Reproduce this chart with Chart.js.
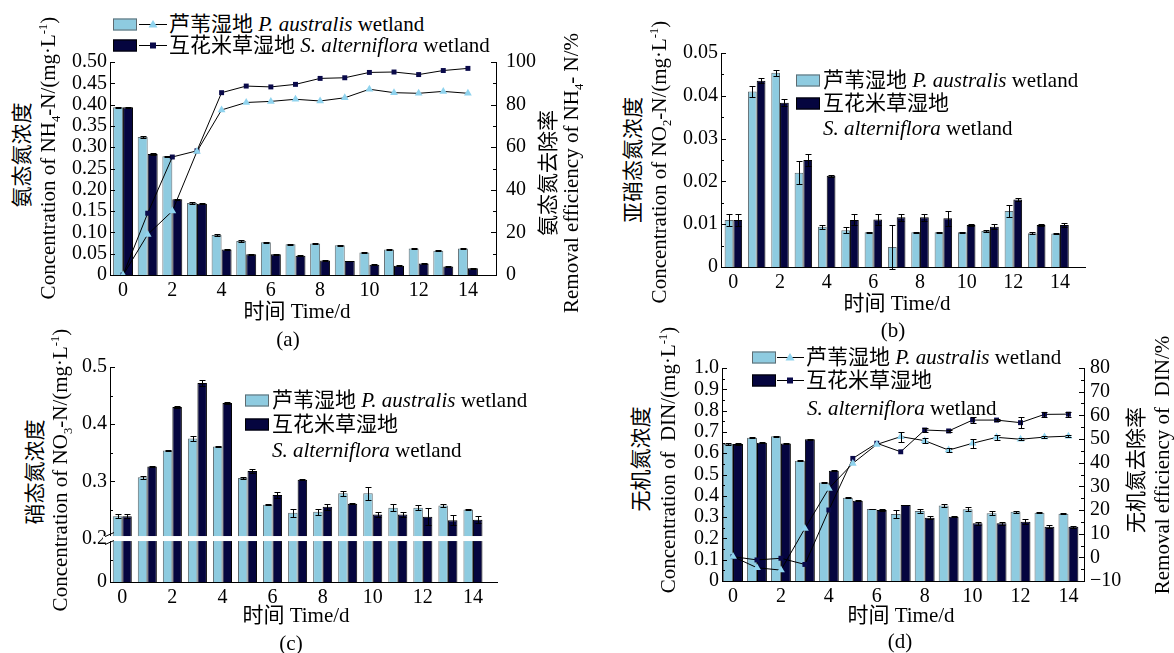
<!DOCTYPE html>
<html>
<head>
<meta charset="utf-8">
<script src="https://cdn.jsdelivr.net/npm/chart.js@4.4.1/dist/chart.umd.min.js"></script>
<style>
  body{margin:0;background:#fff;width:1174px;height:653px;position:relative;overflow:hidden;
       font-family:"Liberation Serif","Noto Sans CJK SC",serif;color:#000}
  canvas{position:absolute}
  .t{position:absolute;white-space:nowrap;font-size:21px;line-height:1}
  .rot{transform:translate(-50%,-50%) rotate(-90deg)}
  .ctr{transform:translate(-50%,-50%)}
  sub,sup{font-size:0.6em;line-height:0}
  .lg{position:absolute;display:flex;align-items:center;white-space:nowrap;font-size:21px;line-height:1;transform:translateY(-50%)}
  .sw{display:inline-block;width:24px;height:12px;box-sizing:border-box}
  .sw.l{background:#8ecbe0;border:1px solid #5f6b70}
  .sw.d{background:#05053f;border:1px solid #000}
  .lg svg{display:block}
</style>
</head>
<body>

<!-- panel canvases -->
<canvas id="cA"></canvas>
<canvas id="cB"></canvas>
<canvas id="cC"></canvas>
<canvas id="cD"></canvas>

<!-- (a) texts -->
<div class="t rot" style="left:22px;top:155px">氨态氮浓度</div>
<div class="t rot" style="left:48px;top:158px">Concentration of NH<sub>4</sub>-N/(mg·L<sup>-1</sup>)</div>
<div class="t rot" style="left:548px;top:173px">氨态氮去除率</div>
<div class="t rot" style="left:571px;top:173px">Removal efficiency of NH<sub>4</sub>- N/%</div>
<div class="t ctr" style="left:297px;top:311px">时间 Time/d</div>
<div class="t ctr" style="left:288px;top:339px">(a)</div>
<div class="lg" style="left:113px;top:24px"><span class="sw l"></span>
  <svg width="32" height="14"><line x1="2" y1="7" x2="30" y2="7" stroke="#000" stroke-width="1"/><polygon points="16,2.5 20.5,10 11.5,10" fill="#8fd3ee"/></svg>
  <span>芦苇湿地 <i>P. australis</i> wetland</span></div>
<div class="lg" style="left:113px;top:45px"><span class="sw d"></span>
  <svg width="32" height="14"><line x1="2" y1="7" x2="30" y2="7" stroke="#000" stroke-width="1"/><rect x="13" y="4" width="6" height="6" fill="#0a0a4a"/></svg>
  <span>互花米草湿地 <i>S. alterniflora</i> wetland</span></div>

<!-- (b) texts -->
<div class="t rot" style="left:633px;top:160px">亚硝态氮浓度</div>
<div class="t rot" style="left:659px;top:162px">Concentration of NO<sub>2</sub>-N/(mg·L<sup>-1</sup>)</div>
<div class="t ctr" style="left:897px;top:303px">时间 Time/d</div>
<div class="t ctr" style="left:893px;top:330px">(b)</div>
<div class="lg" style="left:796px;top:80px"><span class="sw l"></span><span style="margin-left:3px">芦苇湿地 <i>P. australis</i> wetland</span></div>
<div class="lg" style="left:796px;top:103px"><span class="sw d"></span><span style="margin-left:3px">互花米草湿地</span></div>
<div class="lg" style="left:823px;top:128px"><span><i>S. alterniflora</i> wetland</span></div>

<!-- (c) texts -->
<div class="t rot" style="left:35px;top:472px">硝态氮浓度</div>
<div class="t rot" style="left:60px;top:470px">Concentration of NO<sub>3</sub>-N/(mg·L<sup>-1</sup>)</div>
<div class="t ctr" style="left:296px;top:615px">时间 Time/d</div>
<div class="t ctr" style="left:291px;top:643px">(c)</div>
<div class="lg" style="left:245px;top:400px"><span class="sw l"></span><span style="margin-left:3px">芦苇湿地 <i>P. australis</i> wetland</span></div>
<div class="lg" style="left:245px;top:424px"><span class="sw d"></span><span style="margin-left:3px">互花米草湿地</span></div>
<div class="lg" style="left:272px;top:450px"><span><i>S. alterniflora</i> wetland</span></div>

<!-- (d) texts -->
<div class="t rot" style="left:641px;top:459px">无机氮浓度</div>
<div class="t rot" style="left:668px;top:460px">Concentration of&nbsp; DIN/(mg·L<sup>-1</sup>)</div>
<div class="t rot" style="left:1136px;top:470px">无机氮去除率</div>
<div class="t rot" style="left:1162px;top:465px">Removal efficiency of&nbsp; DIN/%</div>
<div class="t ctr" style="left:901px;top:615px">时间 Time/d</div>
<div class="t ctr" style="left:900px;top:641px">(d)</div>
<div class="lg" style="left:752px;top:357px"><span class="sw l"></span>
  <svg width="30" height="14"><line x1="1" y1="7" x2="28" y2="7" stroke="#000" stroke-width="1"/><polygon points="14,2.5 18.5,10 9.5,10" fill="#8fd3ee"/></svg>
  <span>芦苇湿地 <i>P. australis</i> wetland</span></div>
<div class="lg" style="left:752px;top:380px"><span class="sw d"></span>
  <svg width="30" height="14"><line x1="1" y1="7" x2="28" y2="7" stroke="#000" stroke-width="1"/><rect x="11" y="4" width="6" height="6" fill="#0a0a4a"/></svg>
  <span>互花米草湿地</span></div>
<div class="lg" style="left:807px;top:408px"><span><i>S. alterniflora</i> wetland</span></div>

<script>
// ---- data ----
const days = [0,1,2,3,4,5,6,7,8,9,10,11,12,13,14];
const xTickVals = [0,2,4,6,8,10,12,14];
const xTickLabels = ['0','2','4','6','8','10','12','14'];

// (a) NH4-N concentration (mg/L) and removal (%)
const nh4P    = [0.394,0.324,0.279,0.169,0.094,0.080,0.077,0.072,0.074,0.070,0.053,0.060,0.062,0.057,0.062];
const nh4PErr = [0.0015,0.0015,0.0015,0.0015,0.0015,0.0015,0.0015,0.0015,0.0015,0.0015,0.0015,0.0015,0.0015,0.0015,0.0015];
const nh4S    = [0.394,0.284,0.178,0.167,0.060,0.049,0.049,0.045,0.034,0.033,0.024,0.022,0.027,0.020,0.016];
const nh4SErr = [0.0015,0.0015,0.0015,0.0015,0.0015,0.001,0.001,0.001,0.001,0.001,0.001,0.001,0.001,0.001,0.001];
const remNH4P = [0,19,30,58,77.5,81,81.5,82.5,81.7,83.2,87.2,85.6,85.3,86.2,85.3];
const remNH4S = [0,29,55.4,58.3,85.6,88.7,88.3,89.5,92.3,92.6,95.1,95.3,94.1,96,97];
const aLeftTicks  = [0,0.05,0.10,0.15,0.20,0.25,0.30,0.35,0.40,0.45,0.50];
const aLeftLabels = ['0','0.05','0.10','0.15','0.20','0.25','0.30','0.35','0.40','0.45','0.50'];
const aRightTicks  = [0,20,40,60,80,100];
const aRightLabels = ['0','20','40','60','80','100'];

// (b) NO2-N concentration (mg/L)
const no2P    = [0.011,0.041,0.0454,0.022,0.0094,0.0086,0.0081,0.0047,0.0081,0.0081,0.0081,0.0084,0.0131,0.0079,0.0078];
const no2PErr = [0.0014,0.0013,0.0007,0.0027,0.0005,0.0007,0.0001,0.0052,0.0001,0.0001,0.0001,0.0002,0.0014,0.0003,0.0002];
const no2S    = [0.011,0.0435,0.0384,0.025,0.0213,0.011,0.0111,0.0116,0.0116,0.0114,0.0098,0.0094,0.0158,0.0098,0.0098];
const no2SErr = [0.0014,0.0006,0.0008,0.0013,0.0002,0.0013,0.0012,0.0008,0.0008,0.0018,0.0002,0.0006,0.0003,0.0002,0.0004];
const bTicks  = [0,0.01,0.02,0.03,0.04,0.05];
const bLabels = ['0','0.01','0.02','0.03','0.04','0.05'];

// (c) NO3-N concentration (mg/L), broken axis at 0.2
const no3P    = [0.239,0.307,0.354,0.375,0.361,0.306,0.259,0.245,0.247,0.279,0.279,0.254,0.254,0.258,0.251];
const no3PErr = [0.0035,0.002,0.001,0.004,0.001,0.001,0.001,0.007,0.005,0.004,0.011,0.006,0.004,0.002,0.001];
const no3S    = [0.239,0.326,0.430,0.472,0.437,0.318,0.276,0.303,0.2555,0.261,0.242,0.242,0.238,0.232,0.233];
const no3SErr = [0.0035,0.001,0.001,0.005,0.001,0.003,0.005,0.001,0.005,0.001,0.005,0.005,0.015,0.009,0.006];
const cTicks  = [0,0.2,0.3,0.4,0.5];
const cLabels = ['0','0.2','0.3','0.4','0.5'];
const cMinor  = [0.1,0.25,0.35,0.45];
const cBreak  = 0.2;

// (d) DIN concentration (mg/L) and removal (%)
const dinP    = [0.643,0.673,0.679,0.565,0.463,0.391,0.338,0.315,0.329,0.354,0.337,0.318,0.325,0.321,0.316];
const dinPErr = [0.003,0.003,0.002,0.002,0.003,0.003,0.002,0.017,0.008,0.006,0.010,0.010,0.004,0.002,0.002];
const dinS    = [0.643,0.649,0.646,0.665,0.518,0.377,0.333,0.357,0.297,0.302,0.271,0.271,0.278,0.255,0.255];
const dinSErr = [0.003,0.002,0.002,0.004,0.002,0.003,0.003,0.002,0.006,0.003,0.007,0.006,0.012,0.007,0.005];
const remDinP    = [0.3,-4.4,-5.4,12.2,29.1,39.7,47.7,51,49.3,45.3,48.2,50.7,49.9,50.8,51.2];
const remDinPErr = [0,0,0,0,0,0,0,2.1,1,0.8,1.8,1.2,0.5,0.5,0.5];
const remDinS    = [0.3,-1.1,-0.4,-3,20,41.8,48.2,44.6,53.8,53.4,58,58,56.9,60.4,60.5];
const remDinSErr = [0,0,0,0,0,0,0,0,1,0.5,1.2,0.5,2.3,1,1];
const dLeftTicks  = [0,0.1,0.2,0.3,0.4,0.5,0.6,0.7,0.8,0.9,1.0];
const dLeftLabels = ['0','0.1','0.2','0.3','0.4','0.5','0.6','0.7','0.8','0.9','1.0'];
const dRightTicks  = [-10,0,10,20,30,40,50,60,70,80];
const dRightLabels = ['\u221210','0','10','20','30','40','50','60','70','80'];

// ---- style ----
const col = {light:'#8ecbe0', lightEdge:'#5f6b70', dark:'#05053f', darkEdge:'#000', tri:'#8fd3ee', sq:'#0a0a4a'};
Chart.defaults.font.family = '"Liberation Serif", serif';
Chart.defaults.color = '#000';

// compressed lower segment for the broken axis of (c)
const K = 0.38;
const tfC = v => v <= cBreak ? v*K : cBreak*K + (v - cBreak);

const mid = arr => arr.slice(1).map((v,i)=>(v+arr[i])/2);

// ---- plugins ----
const errBars = {
  id:'errBars',
  afterDatasetsDraw(chart, args, o){
    const ctx = chart.ctx, tf = o.tf || (v=>v);
    chart.data.datasets.forEach((ds,i)=>{
      if(!ds.err) return;
      const meta = chart.getDatasetMeta(i);
      const ys = chart.scales[meta.yAxisID];
      ctx.save(); ctx.strokeStyle='#000'; ctx.lineWidth=1;
      meta.data.forEach((el,j)=>{
        const e = ds.err[j]; if(!e) return;
        const v = ds.vals[j];
        const y1 = Math.round(ys.getPixelForValue(tf(v+e)))+0.5;
        const y2 = Math.round(ys.getPixelForValue(tf(v-e)))+0.5;
        const x = Math.round(el.x)+0.5;
        ctx.beginPath();
        ctx.moveTo(x,y1); ctx.lineTo(x,y2);
        ctx.moveTo(x-3,y1); ctx.lineTo(x+3,y1);
        ctx.moveTo(x-3,y2); ctx.lineTo(x+3,y2);
        ctx.stroke();
      });
      ctx.restore();
    });
  }
};

const innerTicks = {
  id:'innerTicks',
  afterDraw(chart, args, o){
    const ctx = chart.ctx;
    ctx.save(); ctx.strokeStyle='#000'; ctx.lineWidth=1;
    Object.keys(o.axes||{}).forEach(id=>{
      const s = chart.scales[id], c = o.axes[id];
      const left = s.position === 'left';
      const x0 = left ? chart.chartArea.left : chart.chartArea.right;
      const dir = left ? 1 : -1;
      const draw = (vals,len)=>vals.forEach(v=>{
        const y = Math.round(s.getPixelForValue(v))+0.5;
        ctx.beginPath(); ctx.moveTo(x0,y); ctx.lineTo(x0+dir*len,y); ctx.stroke();
      });
      draw(c.major||[],5); draw(c.minor||[],3);
    });
    ctx.restore();
  }
};

const breakBand = {
  id:'breakBand',
  afterDraw(chart, args, o){
    if(o.at === undefined) return;
    const ctx = chart.ctx, s = chart.scales.y, a = chart.chartArea;
    const y = s.getPixelForValue(o.at);
    ctx.save();
    ctx.fillStyle = '#fff';
    ctx.fillRect(a.left-7, y-2.5, a.right-a.left+7, 5);
    ctx.strokeStyle = '#000'; ctx.lineWidth = 1;
    ctx.beginPath();
    ctx.moveTo(a.left-5, y-2); ctx.lineTo(a.left+4, y-6);
    ctx.moveTo(a.left-5, y+6); ctx.lineTo(a.left+4, y+2);
    ctx.stroke();
    ctx.restore();
  }
};

// ---- builders ----
function barSet(vals, errs, light, pct, tf){
  tf = tf || (v=>v);
  return {
    type:'bar',
    data: days.map((d,i)=>({x:d, y:tf(vals[i])})),
    vals, err: errs,
    backgroundColor: light ? col.light : col.dark,
    borderColor: light ? col.lightEdge : col.darkEdge,
    borderWidth: 1, borderSkipped:'bottom',
    categoryPercentage: pct, barPercentage: 1,
    yAxisID:'y', order: 2
  };
}
function lineSet(vals, errs, light){
  return {
    type:'line',
    data: days.map((d,i)=>({x:d, y:vals[i]})),
    vals, err: errs,
    borderColor:'#000', borderWidth:1, tension:0, fill:false,
    pointStyle: light ? 'triangle' : 'rect',
    pointRadius: light ? 4.5 : 3.5,
    pointBackgroundColor: light ? col.tri : col.sq,
    pointBorderColor: light ? col.tri : col.sq,
    pointBorderWidth: 0,
    yAxisID:'y2', order: 0
  };
}
function yAxis(c, pos, w){
  return {
    type:'linear', position:pos, bounds:'data', min:c.min, max:c.max,
    grid:{display:false, drawTicks:false},
    border:{display:true, color:'#000', width:1, z:1},
    ticks:{font:{size:20}, color:'#000', padding:c.pad, autoSkip:false, callback:(v,i)=>c.labels[i]},
    afterBuildTicks:s=>{ s.ticks = c.ticks.map(v=>({value:v})); },
    afterFit:s=>{ s.width = w; s.paddingTop = 0; s.paddingBottom = 0; }
  };
}
function build(id, box, area, spec){
  const cv = document.getElementById(id);
  cv.width = box.w; cv.height = box.h;
  Object.assign(cv.style, {left:box.x+'px', top:box.y+'px', width:box.w+'px', height:box.h+'px'});
  const scales = {
    x:{
      type:'linear', bounds:'data', min:spec.xMin, max:spec.xMax, offset:false,
      grid:{display:false, drawTicks:false},
      border:{display:true, color:'#000', width:1, z:1},
      ticks:{font:{size:20}, color:'#000', padding:4, autoSkip:false, maxRotation:0, callback:(v,i)=>xTickLabels[i]},
      afterBuildTicks:s=>{ s.ticks = xTickVals.map(v=>({value:v})); },
      afterFit:s=>{ s.height = box.y+box.h-area.b; s.paddingLeft = 0; s.paddingRight = 0; }
    },
    y: yAxis(spec.y, 'left', area.l-box.x)
  };
  if(spec.y2) scales.y2 = yAxis(spec.y2, 'right', box.x+box.w-area.r);
  return new Chart(cv, {
    type:'bar',
    data:{datasets: spec.datasets},
    options:{
      responsive:false, animation:false, devicePixelRatio:1,
      layout:{padding:{top:area.t-box.y, left:0, bottom:0, right: spec.y2 ? 0 : box.x+box.w-area.r}},
      scales,
      plugins:{
        legend:{display:false}, tooltip:{enabled:false},
        errBars:{tf: spec.tf},
        innerTicks:{axes: spec.inner},
        breakBand:{at: spec.breakAt}
      }
    },
    plugins:[errBars, innerTicks, breakBand]
  });
}

// ---- panels ----
build('cA', {x:60,y:40,w:480,h:270}, {l:110,t:62,r:496,b:275}, {
  xMin:-0.53, xMax:15.14,
  y:{min:0, max:0.5, ticks:aLeftTicks, labels:aLeftLabels, pad:3},
  y2:{min:0, max:100, ticks:aRightTicks, labels:aRightLabels, pad:10},
  datasets:[
    lineSet(remNH4P, null, true), lineSet(remNH4S, null, false),
    barSet(nh4P, nh4PErr, true, 0.81), barSet(nh4S, nh4SErr, false, 0.81)
  ],
  inner:{y:{major:aLeftTicks}, y2:{major:aRightTicks, minor:mid(aRightTicks)}}
});

build('cB', {x:670,y:40,w:430,h:270}, {l:721,t:53,r:1085,b:267}, {
  xMin:-0.53, xMax:15.07,
  y:{min:0, max:0.05, ticks:bTicks, labels:bLabels, pad:3},
  datasets:[ barSet(no2P, no2PErr, true, 0.75), barSet(no2S, no2SErr, false, 0.75) ],
  inner:{y:{major:bTicks, minor:mid(bTicks)}}
});

build('cC', {x:60,y:355,w:470,h:260}, {l:110,t:367,r:497,b:582}, {
  xMin:-0.49, xMax:14.96,
  y:{min:0, max:tfC(0.5), ticks:cTicks.map(tfC), labels:cLabels, pad:3},
  datasets:[ barSet(no3P, no3PErr, true, 0.76, tfC), barSet(no3S, no3SErr, false, 0.76, tfC) ],
  tf: tfC, breakAt: tfC(cBreak),
  inner:{y:{major:cTicks.map(tfC), minor:cMinor.map(tfC)}}
});

build('cD', {x:670,y:355,w:460,h:260}, {l:722,t:368,r:1084,b:581}, {
  xMin:-0.46, xMax:14.65,
  y:{min:0, max:1, ticks:dLeftTicks, labels:dLeftLabels, pad:3},
  y2:{min:-10, max:80, ticks:dRightTicks, labels:dRightLabels, pad:6},
  datasets:[
    lineSet(remDinP, remDinPErr, true), lineSet(remDinS, remDinSErr, false),
    barSet(dinP, dinPErr, true, 0.83), barSet(dinS, dinSErr, false, 0.83)
  ],
  inner:{y:{major:dLeftTicks, minor:mid(dLeftTicks)}, y2:{major:dRightTicks, minor:mid(dRightTicks)}}
});
</script>
</body>
</html>
